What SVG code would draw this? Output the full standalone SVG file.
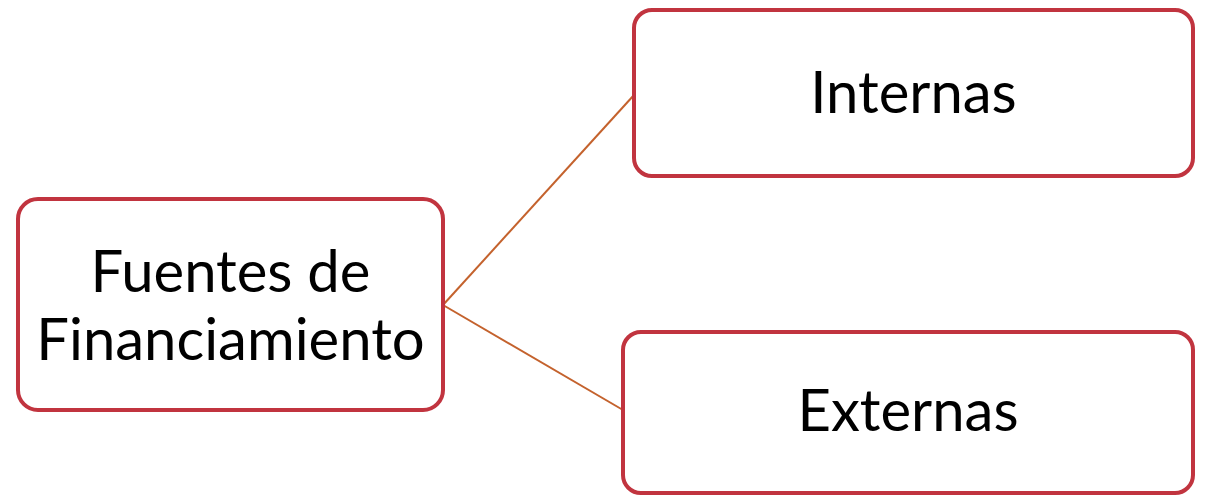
<svg xmlns="http://www.w3.org/2000/svg" width="1205" height="497" viewBox="0 0 1205 497">
<style>
.box{fill:#ffffff;stroke:#C1343F;stroke-width:4}
.lbl{font-family:Lato,"Open Sans","Liberation Sans",sans-serif;font-size:58px;fill:#000000;text-anchor:middle}
.conn{stroke:#C4622D;stroke-width:2;fill:none}
</style>
<rect width="1205" height="497" fill="#ffffff"/>
<g id="connectors">
<line class="conn" x1="443" y1="305" x2="634" y2="95"/>
<line class="conn" x1="443" y1="305" x2="623" y2="410"/>
</g>
<g id="node-fuentes">
<rect class="box" x="18" y="199" width="425" height="211" rx="20"/>
<text class="lbl" x="230.5" y="292">Fuentes de</text>
<text class="lbl" x="230.5" y="360">Financiamiento</text>
</g>
<g id="node-internas">
<rect class="box" x="634" y="10" width="559" height="166" rx="18"/>
<text class="lbl" x="913.5" y="113">Internas</text>
</g>
<g id="node-externas">
<rect class="box" x="623" y="332" width="570" height="161" rx="18"/>
<text class="lbl" x="908" y="431">Externas</text>
</g>
</svg>
